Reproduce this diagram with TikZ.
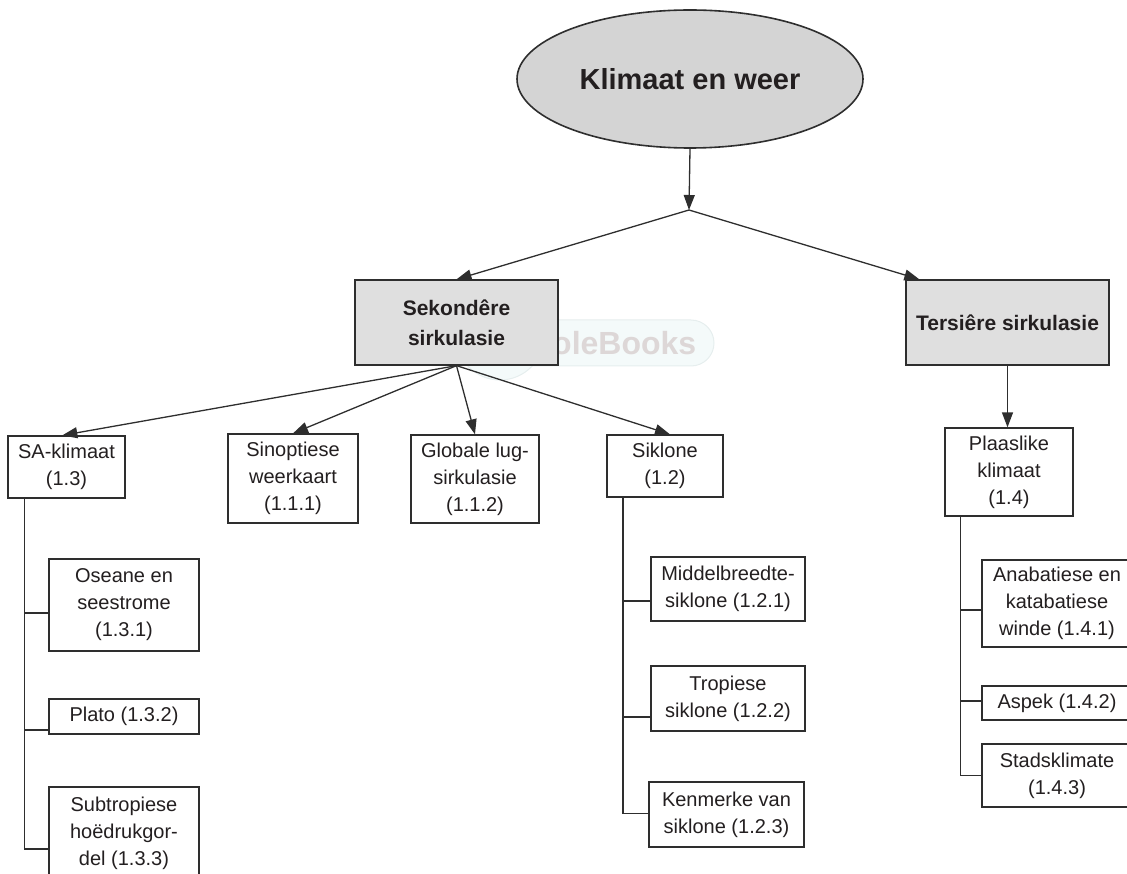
\documentclass[tikz,border=0pt]{standalone}
\usepackage{fontspec}
\setmainfont{Liberation Sans}
\usetikzlibrary{shapes.geometric,arrows.meta,calc}
\definecolor{ln}{HTML}{2E2E2E}
\definecolor{txt}{HTML}{231F20}
\definecolor{efill}{HTML}{D4D4D4}
\definecolor{gfill}{HTML}{DFDFDF}
\definecolor{wmfill}{HTML}{F4FAFA}
\definecolor{wmedge}{HTML}{E6EEEE}
\definecolor{wmtext}{HTML}{DDD7D7}
\tikzset{
  box/.style={draw=ln, line width=1.3pt, rectangle, inner sep=0pt, align=center, text=txt,
    font=\fontsize{20}{27}\selectfont, fill=white},
  gbox/.style={box, fill=gfill, font=\bfseries\fontsize{21}{30}\selectfont},
  conn/.style={draw=ln, line width=1.3pt},
  arr/.style={conn, -{Triangle[length=15pt,width=11pt]}},
}
\begin{document}
\begin{tikzpicture}[x=1pt,y=-1pt]
\useasboundingbox (0,0) rectangle (1127,874);
\clip (0,0) rectangle (1127,874);

% watermark
\fill[wmfill, draw=wmedge, line width=1pt, rounded corners=23pt] (470,320) rectangle (714,366);
\fill[wmfill, draw=wmedge, line width=1pt] (500,336) circle (44);
\node[text=wmtext, font=\bfseries\fontsize{32}{32}\selectfont, anchor=west, inner sep=0pt] (wm) at (552,343) {oleBooks};

% top
\node[ellipse, draw=ln, line width=1.6pt, fill=efill, minimum width=346pt, minimum height=138pt,
  inner sep=0pt, text=txt, font=\fontsize{29}{34}\selectfont\bfseries] (top) at (690,79) {Klimaat en weer};
\coordinate (br) at (689,210);

\node[gbox, minimum width=203pt, minimum height=85pt] (sek) at (456.5,322.5) {Sekondêre\\sirkulasie};
\node[gbox, minimum width=203pt, minimum height=85pt] (ter) at (1007.5,322.5) {Tersiêre sirkulasie};

% second level
\node[box, minimum width=117pt, minimum height=62pt] (sa) at (66.5,467) {SA-klimaat\\(1.3)};
\node[box, minimum width=130pt, minimum height=89pt] (sin) at (293,478.5) {Sinoptiese\\weerkaart\\(1.1.1)};
\node[box, minimum width=128pt, minimum height=88pt] (glo) at (475,479) {Globale lug-\\sirkulasie\\(1.1.2)};
\node[box, minimum width=116pt, minimum height=62pt] (sik) at (665,466) {Siklone\\(1.2)};
\node[box, minimum width=128pt, minimum height=88pt] (plk) at (1009,472) {Plaaslike\\klimaat\\(1.4)};

% SA children
\node[box, minimum width=150pt, minimum height=92pt] (ose) at (124,605) {Oseane en\\seestrome\\(1.3.1)};
\node[box, minimum width=150pt, minimum height=35pt] (pla) at (124,716.5) {Plato (1.3.2)};
\node[box, minimum width=150pt, minimum height=92pt] (sub) at (124,833) {Subtropiese\\hoëdrukgor-\\del (1.3.3)};

% Siklone children
\node[box, minimum width=154pt, minimum height=64pt] (mid) at (728,589) {Middelbreedte-\\siklone (1.2.1)};
\node[box, minimum width=154pt, minimum height=65pt] (tro) at (728,698.5) {Tropiese\\siklone (1.2.2)};
\node[box, minimum width=155pt, minimum height=65pt] (ken) at (726.5,814.5) {Kenmerke van\\siklone (1.2.3)};

% Plaaslike children
\node[box, minimum width=150pt, minimum height=87pt] (ana) at (1057,603.5) {Anabatiese en\\katabatiese\\winde (1.4.1)};
\node[box, minimum width=150pt, minimum height=34pt] (asp) at (1057,703) {Aspek (1.4.2)};
\node[box, minimum width=150pt, minimum height=63pt] (sta) at (1057,775.5) {Stadsklimate\\(1.4.3)};

% arrows top
\draw[arr] (top.south) -- (br);
\draw[arr] (br) -- (sek.north);
\draw[arr] (br) -- ($(ter.north west)+(14,0)$);

% arrows from Sekondere
\draw[arr] (sek.south) -- ($(sa.north west)+(55,0)$);
\draw[arr] (sek.south) -- (sin.north);
\draw[arr] (sek.south) -- (glo.north);
\draw[arr] (sek.south) -- ($(sik.north)+(5,0)$);

% Tersiere to Plaaslike
\draw[arr] (ter.south) -- (ter.south |- plk.north);

% tree lines: SA
\coordinate (saT) at ($(sa.south west)+(17,0)$);
\draw[conn] (saT) |- ([yshift=-16pt]sub.west);
\draw[conn] ([yshift=-8pt]ose.west) -- ([yshift=-8pt]ose.west -| saT);
\draw[conn] ([yshift=-13.5pt]pla.west) -- ([yshift=-13.5pt]pla.west -| saT);

% tree lines: Siklone
\coordinate (sikT) at ($(sik.south west)+(16.5,0)$);
\draw[conn] (sikT) |- ([yshift=1pt]ken.west);
\draw[conn] ([yshift=-12pt]mid.west) -- ([yshift=-12pt]mid.west -| sikT);
\draw[conn] ([yshift=-18.5pt]tro.west) -- ([yshift=-18.5pt]tro.west -| sikT);

% tree lines: Plaaslike
\coordinate (plkT) at ($(plk.south west)+(16,0)$);
\draw[conn] (plkT) |- (sta.west);
\draw[conn] ([yshift=-6.5pt]ana.west) -- ([yshift=-6.5pt]ana.west -| plkT);
\draw[conn] ([yshift=2pt]asp.west) -- ([yshift=2pt]asp.west -| plkT);
\end{tikzpicture}
\end{document}
